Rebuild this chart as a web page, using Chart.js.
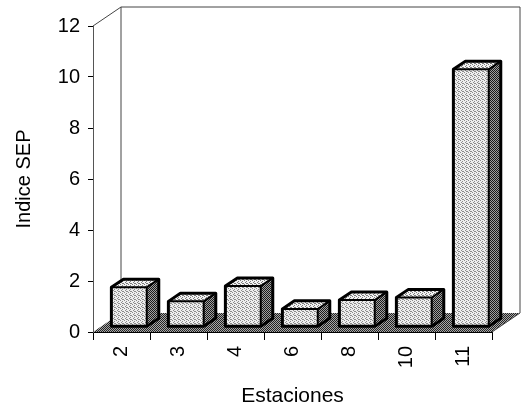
<!DOCTYPE html>
<html>
<head>
<meta charset="utf-8">
<script src="https://cdn.jsdelivr.net/npm/chart.js@4"></script>
<style>
  body { margin: 0; background: #fff; }
</style>
</head>
<body>
<canvas id="sepChart" width="522" height="412"></canvas>
<script>
// Datos
const estaciones = ['2', '3', '4', '6', '8', '10', '11'];
const indiceSEP = [1.55, 1.0, 1.6, 0.7, 1.05, 1.15, 10.1];

// Profundidad 3D (pixeles) y posicion de las barras dentro de ella
const depth = { dx: 28, dy: -19 };
const barShift = 0.27;
const barDepth = 0.43;

// Tramas punteadas
function makePattern(ctx, base, dot, dots) {
  const c = document.createElement('canvas');
  c.width = 4; c.height = 4;
  const p = c.getContext('2d');
  p.fillStyle = base;
  p.fillRect(0, 0, 4, 4);
  p.fillStyle = dot;
  dots.forEach(d => p.fillRect(d[0], d[1], 1, 1));
  return ctx.createPattern(c, 'repeat');
}

const ctx = document.getElementById('sepChart').getContext('2d');
const lightDots = [[0, 0], [2, 1], [1, 2], [3, 3], [2, 3]];
const darkDots = [[0, 0], [2, 0], [1, 1], [3, 1], [0, 2], [2, 2], [1, 3], [3, 3]];
const frontFill = makePattern(ctx, '#eeeeee', '#8c8c8c', lightDots);
const topFill = makePattern(ctx, '#f2f2f2', '#7a7a7a', lightDots);
const sideFill = makePattern(ctx, '#a0a0a0', '#1a1a1a', darkDots);
const floorFill = makePattern(ctx, '#a8a8a8', '#222222', darkDots);

function poly(c, pts) {
  c.beginPath();
  c.moveTo(pts[0][0], pts[0][1]);
  for (let i = 1; i < pts.length; i++) c.lineTo(pts[i][0], pts[i][1]);
  c.closePath();
}

const box3d = {
  id: 'box3d',
  beforeDatasetsDraw(chart) {
    const c = chart.ctx;
    const a = chart.chartArea;
    const { dx, dy } = depth;
    c.save();
    // piso
    poly(c, [[a.left, a.bottom], [a.right, a.bottom], [a.right + dx, a.bottom + dy], [a.left + dx, a.bottom + dy]]);
    c.fillStyle = floorFill;
    c.fill();
    // paredes
    c.strokeStyle = '#444';
    c.lineWidth = 1;
    c.beginPath();
    c.moveTo(a.left, a.top);
    c.lineTo(a.left + dx, a.top + dy);
    c.lineTo(a.right + dx, a.top + dy);
    c.lineTo(a.right + dx, a.bottom + dy);
    c.lineTo(a.right, a.bottom);
    c.moveTo(a.left + dx, a.top + dy);
    c.lineTo(a.left + dx, a.bottom + dy);
    c.stroke();
    c.restore();
  },
  afterDatasetsDraw(chart) {
    const c = chart.ctx;
    const { dx, dy } = depth;
    const ox = dx * barShift, oy = dy * barShift;
    const ex = dx * barDepth, ey = dy * barDepth;
    c.save();
    c.lineJoin = 'round';
    c.strokeStyle = '#000';
    chart.getDatasetMeta(0).data.forEach(bar => {
      const { x, y, base, width } = bar.getProps(['x', 'y', 'base', 'width'], true);
      const l = x - width / 2 + ox, r = x + width / 2 + ox;
      const t = y + oy, b = base + oy;
      // lado
      poly(c, [[r, b], [r + ex, b + ey], [r + ex, t + ey], [r, t]]);
      c.fillStyle = sideFill;
      c.fill();
      // tapa
      poly(c, [[l, t], [r, t], [r + ex, t + ey], [l + ex, t + ey]]);
      c.fillStyle = topFill;
      c.fill();
      // frente
      poly(c, [[l, b], [r, b], [r, t], [l, t]]);
      c.fillStyle = frontFill;
      c.fill();
      // contornos
      c.lineWidth = 2;
      c.beginPath();
      c.moveTo(r, b); c.lineTo(r, t); c.lineTo(l, t);
      c.moveTo(r, t); c.lineTo(r + ex, t + ey);
      c.stroke();
      c.lineWidth = 3;
      poly(c, [[l, b], [r, b], [r + ex, b + ey], [r + ex, t + ey], [l + ex, t + ey], [l, t]]);
      c.stroke();
    });
    c.restore();
  }
};

const family = 'Liberation Sans, Arial, sans-serif';

new Chart(ctx, {
  type: 'bar',
  data: {
    labels: estaciones,
    datasets: [{
      label: 'Indice SEP',
      data: indiceSEP,
      backgroundColor: 'rgba(0,0,0,0)',
      borderWidth: 0,
      barPercentage: 0.62,
      categoryPercentage: 1
    }]
  },
  options: {
    responsive: false,
    animation: false,
    layout: { padding: { top: 26, right: 30, left: 0, bottom: 0 } },
    plugins: {
      legend: { display: false },
      tooltip: { enabled: false }
    },
    scales: {
      x: {
        afterFit: s => { s.height = 80; },
        grid: { display: true, drawOnChartArea: false, offset: true, tickLength: 8, color: '#000' },
        border: { display: true, color: '#000' },
        ticks: { color: '#000', font: { family: family, size: 20 }, minRotation: 90, maxRotation: 90, padding: 6 },
        title: {
          display: true, text: 'Estaciones', color: '#000',
          font: { family: family, size: 21 },
          padding: { top: 0, bottom: 3 }
        }
      },
      y: {
        min: 0,
        max: 12,
        afterFit: s => { s.width = 93; },
        grid: { display: true, drawOnChartArea: false, tickLength: 5, color: '#000' },
        border: { display: true, color: '#555' },
        ticks: { stepSize: 2, color: '#000', font: { family: family, size: 20 }, padding: 8 },
        title: {
          display: true, text: 'Indice SEP', color: '#000',
          font: { family: family, size: 20 },
          padding: { top: 12, bottom: 0 }
        }
      }
    }
  },
  plugins: [box3d]
});
</script>
</body>
</html>
